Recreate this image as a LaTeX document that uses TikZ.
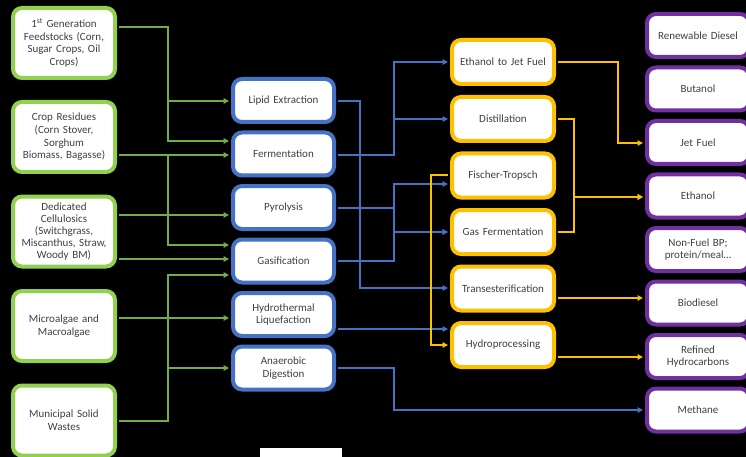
\documentclass[tikz,border=0pt]{standalone}
\usepackage{fontspec}
\setmainfont{Carlito}
\usetikzlibrary{arrows.meta}

\definecolor{feedgreen}{HTML}{92D050}
\definecolor{linegreen}{HTML}{70AD47}
\definecolor{procblue}{HTML}{4472C4}
\definecolor{upgorange}{HTML}{FFC000}
\definecolor{prodpurple}{HTML}{7030A0}
\definecolor{boxtext}{HTML}{404040}

\tikzset{
	pathbox/.style={draw, fill=white, line width=4pt, rounded corners=9pt, align=center, text=boxtext,
		font=\fontsize{11}{12.6}\selectfont, inner sep=0pt, text width=98pt},
	feedbox/.style={pathbox, draw=feedgreen, minimum width=102pt, minimum height=70pt},
	procbox/.style={pathbox, draw=procblue, minimum width=101pt, minimum height=43pt},
	upgbox/.style={pathbox, draw=upgorange, minimum width=102pt, minimum height=44pt},
	prodbox/.style={pathbox, draw=prodpurple, minimum width=102pt, minimum height=43pt},
	conn/.style={line width=1.3pt, shorten <=2pt, shorten >=2pt, -{Triangle[length=5.5pt,width=5.5pt]}},
}

\begin{document}
\begin{tikzpicture}[x=1pt,y=-1pt]

	%Frame and black background, picture is 746 x 457
	\useasboundingbox (0,0) rectangle (746,457);
	\fill[black] (0,0) rectangle (746,457);
	\clip (0,0) rectangle (746,457);

	%Define the columns (x of the box centres) and the trunks of the connectors
	\pgfmathsetmacro{\xf}{64}
	\pgfmathsetmacro{\xp}{283.5}
	\pgfmathsetmacro{\xu}{503}
	\pgfmathsetmacro{\xr}{698}
	\pgfmathsetmacro{\gt}{168}
	\pgfmathsetmacro{\bta}{360}
	\pgfmathsetmacro{\btb}{394}
	\pgfmathsetmacro{\ota}{431}
	\pgfmathsetmacro{\otb}{574}
	\pgfmathsetmacro{\otc}{618}

	%Feedstocks
	\node[feedbox] (f1) at (\xf,43) {1\textsuperscript{st} Generation\\Feedstocks (Corn,\\Sugar Crops, Oil\\Crops)};
	\node[feedbox] (f2) at (\xf,137) {Crop Residues\\(Corn Stover,\\Sorghum\\Biomass, Bagasse)};
	\node[feedbox, font=\fontsize{11}{12}\selectfont] (f3) at (\xf,231.5) {Dedicated\\Cellulosics\\(Switchgrass,\\Miscanthus, Straw,\\Woody BM)};
	\node[feedbox] (f4) at (\xf,326) {Microalgae and\\Macroalgae};
	\node[feedbox] (f5) at (\xf,420.5) {Municipal Solid\\Wastes};

	%Conversion processes
	\node[procbox] (p1) at (\xp,100.5) {Lipid Extraction};
	\node[procbox] (p2) at (\xp,154) {Fermentation};
	\node[procbox] (p3) at (\xp,207.5) {Pyrolysis};
	\node[procbox] (p4) at (\xp,261) {Gasification};
	\node[procbox] (p5) at (\xp,314.5) {Hydrothermal\\Liquefaction};
	\node[procbox] (p6) at (\xp,368) {Anaerobic\\Digestion};

	%Upgrading
	\node[upgbox] (u1) at (\xu,62) {Ethanol to Jet Fuel};
	\node[upgbox] (u2) at (\xu,119) {Distillation};
	\node[upgbox] (u3) at (\xu,175.5) {Fischer-Tropsch};
	\node[upgbox] (u4) at (\xu,232) {Gas Fermentation};
	\node[upgbox] (u5) at (\xu,288.5) {Transesterification};
	\node[upgbox] (u6) at (\xu,345) {Hydroprocessing};

	%Products
	\node[prodbox] (r1) at (\xr,35.5) {Renewable Diesel};
	\node[prodbox] (r2) at (\xr,89) {Butanol};
	\node[prodbox] (r3) at (\xr,142.5) {Jet Fuel};
	\node[prodbox] (r4) at (\xr,196) {Ethanol};
	\node[prodbox] (r5) at (\xr,249.5) {Non-Fuel BP;\\protein/meal\ldots};
	\node[prodbox] (r6) at (\xr,303) {Biodiesel};
	\node[prodbox] (r7) at (\xr,356.5) {Refined\\Hydrocarbons};
	\node[prodbox] (r8) at (\xr,410) {Methane};

	%Green connectors, feedstocks to processes
	\draw[conn, linegreen] (f1.east |- 0,27) -| (\gt,101) -- (p1.west |- 0,101);
	\draw[conn, linegreen] (f1.east |- 0,27) -| (\gt,141) -- (p2.west |- 0,141);
	\draw[conn, linegreen] (f2.east |- 0,155) -- (p2.west |- 0,155);
	\draw[conn, linegreen] (f2.east |- 0,155) -| (\gt,245) -- (p4.west |- 0,245);
	\draw[conn, linegreen] (f3.east |- 0,215) -- (p3.west |- 0,215);
	\draw[conn, linegreen] (f3.east |- 0,259) -- (p4.west |- 0,259);
	\draw[conn, linegreen] (f4.east |- 0,318) -- (p5.west |- 0,318);
	\draw[conn, linegreen] (f5.east |- 0,421) -| (\gt,275) -- (p4.west |- 0,275);
	\draw[conn, linegreen] (f5.east |- 0,421) -| (\gt,368) -- (p6.west |- 0,368);

	%Blue connectors, processes to upgrading
	\draw[conn, procblue] (p1.east |- 0,101) -| (\bta,288) -- (u5.west |- 0,288);
	\draw[conn, procblue] (p2.east |- 0,155) -| (\btb,62) -- (u1.west |- 0,62);
	\draw[conn, procblue] (p2.east |- 0,155) -| (\btb,119) -- (u2.west |- 0,119);
	\draw[conn, procblue] (p3.east |- 0,208) -| (\btb,184) -- (u3.west |- 0,184);
	\draw[conn, procblue] (p3.east |- 0,208) -| (\btb,232) -- (u4.west |- 0,232);
	\draw[conn, procblue] (p4.east |- 0,261) -| (\btb,232) -- (u4.west |- 0,232);
	\draw[conn, procblue] (p5.east |- 0,329) -- (u6.west |- 0,329);
	\draw[conn, procblue] (p6.east |- 0,368) -| (\btb,410) -- (r8.west |- 0,410);

	%Orange connectors, upgrading to products
	\draw[conn, upgorange] (u1.east |- 0,62) -| (\otc,143) -- (r3.west |- 0,143);
	\draw[conn, upgorange] (u2.east |- 0,119) -| (\otb,197) -- (r4.west |- 0,197);
	\draw[conn, upgorange] (u4.east |- 0,232) -| (\otb,197) -- (r4.west |- 0,197);
	\draw[conn, upgorange] (u3.west |- 0,175) -| (\ota,345) -- (u6.west |- 0,345);
	\draw[conn, upgorange] (u5.east |- 0,298) -- (r6.west |- 0,298);
	\draw[conn, upgorange] (u6.east |- 0,357) -- (r7.west |- 0,357);

	%White strip at the bottom
	\fill[white] (260,448) rectangle (342,458);

\end{tikzpicture}
\end{document}
